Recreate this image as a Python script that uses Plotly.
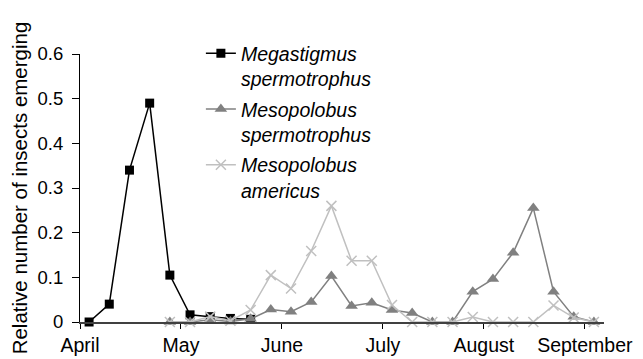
import plotly.graph_objects as go

# sampling index (roughly weekly collections)
sample_idx = list(range(26))

megastigmus = [0, 0.04, 0.34, 0.49, 0.105, 0.016, 0.012, 0.008, 0.006]
meso_sperm = [None, None, None, None, 0, 0, 0.005, 0.001, 0.007, 0.028, 0.023, 0.045, 0.103,
              0.036, 0.043, 0.027, 0.02, 0, 0, 0.068, 0.096, 0.155, 0.255, 0.068, 0.012, 0]
meso_amer = [None, None, None, None, 0, 0, 0.012, 0.003, 0.027, 0.105, 0.075, 0.159, 0.26,
             0.137, 0.137, 0.038, 0, 0, 0, 0.011, 0, 0, 0, 0.037, 0.01, 0]

month_labels = ["April", "May", "June", "July", "August", "September"]
month_pos = [-0.45, 4.55, 9.55, 14.55, 19.55, 24.55]

y_ticks = [0, 0.1, 0.2, 0.3, 0.4, 0.5, 0.6]

fig = go.Figure()
fig.add_trace(go.Scatter(
    x=sample_idx[:len(megastigmus)], y=megastigmus, mode="lines+markers",
    name="<i>Megastigmus</i><br><i>spermotrophus</i>",
    line=dict(color="#000000", width=1.5),
    marker=dict(symbol="square", size=9, color="#000000"),
    cliponaxis=False, legendgroup="a"))
fig.add_trace(go.Scatter(
    x=sample_idx, y=meso_sperm, mode="lines+markers",
    name="<i>Mesopolobus</i><br><i>spermotrophus</i>",
    line=dict(color="#808080", width=1.5),
    marker=dict(symbol="triangle-up", size=11, color="#808080"),
    cliponaxis=False, legendgroup="b"))
fig.add_trace(go.Scatter(
    x=sample_idx, y=meso_amer, mode="lines+markers",
    name="<i>Mesopolobus</i><br><i>americus</i>",
    line=dict(color="#c0c0c0", width=1.5),
    marker=dict(symbol="x-thin", size=10, color="#c0c0c0",
                line=dict(color="#c0c0c0", width=1.5)),
    cliponaxis=False, legendgroup="c"))

# the page adds an 8px body margin, so margins are reduced by 8px on the left/top
fig.update_layout(
    width=643, height=359,
    margin=dict(l=72, r=47, t=46, b=45),
    paper_bgcolor="white", plot_bgcolor="white",
    font=dict(family="Liberation Sans, Arial, sans-serif", color="#000000", size=18),
    showlegend=True,
    legend=dict(x=0.2307, y=1.074, xanchor="left", yanchor="top",
                font=dict(size=19.5), valign="top",
                traceorder="grouped", tracegroupgap=2,
                bgcolor="rgba(0,0,0,0)"),
    xaxis=dict(range=[-0.45, 25.5], tickmode="array", tickvals=month_pos,
               ticktext=month_labels, ticks="outside", ticklen=5, tickcolor="#000",
               showline=True, linecolor="#404040", linewidth=2, automargin=False,
               showgrid=False, zeroline=False, tickfont=dict(size=19.5)),
    yaxis=dict(range=[0, 0.6], tickmode="array", tickvals=y_ticks,
               ticks="outside", ticklen=7, tickcolor="#000", automargin=False,
               ticklabelstandoff=5,
               showline=True, linecolor="#000", linewidth=1,
               showgrid=False, zeroline=False, tickfont=dict(size=18.5),
               title=dict(text="Relative number of insects emerging",
                          font=dict(size=20.5), standoff=5)),
)

fig.write_html("out.html")
